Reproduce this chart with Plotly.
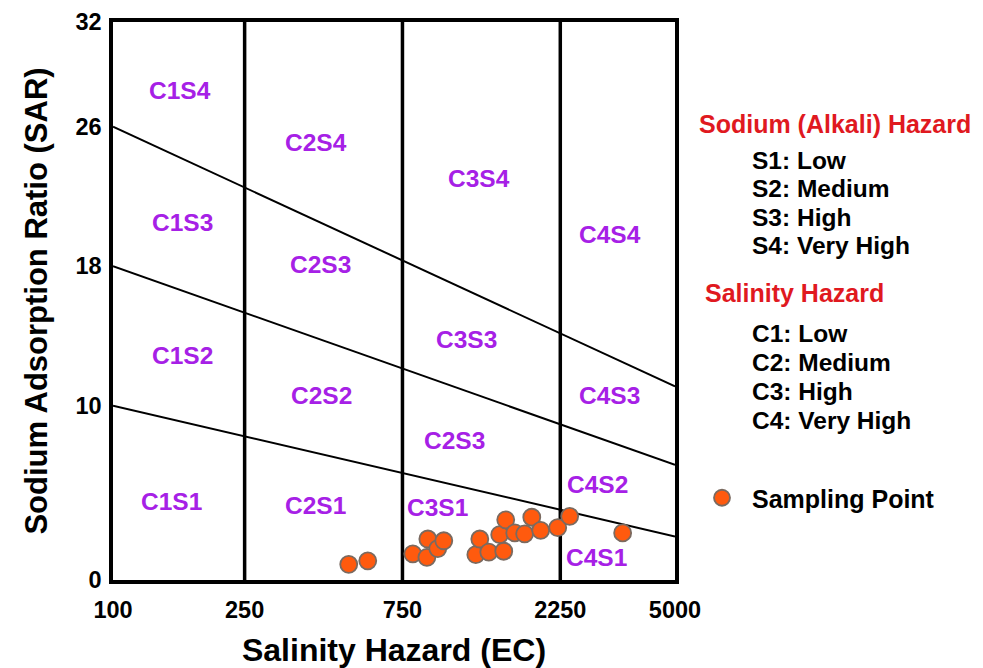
import numpy as np
import plotly.graph_objects as go

# ---- data ----
ec_samples = [516, 589, 806, 889, 895, 959, 1000, 1250, 1285, 1368, 1518, 1476,
              1539, 1639, 1756, 1845, 1963, 2210, 2402, 3473]
sar_samples = [0.9, 1.1, 1.5, 1.3, 2.35, 1.8, 2.25, 1.45, 2.35, 1.6, 1.65, 2.6,
               3.45, 2.7, 2.65, 3.6, 2.85, 3.0, 3.65, 2.7]

ec_range = [100, 5000]
sar_range = [0, 32]
ec_class_bounds = [250, 750, 2250]
# sodium hazard boundary lines: SAR at EC=100 and at EC=5000
s_bound_left = [10, 18, 26]
s_bound_right = [2.5, 6.6, 11.1]

x_tickvals = [100, 250, 750, 2250, 5000]
y_tickvals = [0, 10, 18, 26, 32]

zone_names = ["C1S4", "C2S4", "C3S4", "C4S4",
              "C1S3", "C2S3", "C3S3", "C4S3",
              "C1S2", "C2S2", "C2S3", "C4S2",
              "C1S1", "C2S1", "C3S1", "C4S1"]
zone_ec = [159, 410, 1276, 3175,
           162, 425, 1173, 3175,
           162, 428, 1079, 2919,
           150, 410, 959, 2900]
zone_sar = [28.1, 25.1, 23.0, 19.8,
            20.5, 18.1, 13.8, 10.6,
            12.9, 10.6, 8.0, 5.45,
            4.5, 4.25, 4.15, 1.3]

sodium_title = "Sodium (Alkali) Hazard"
sodium_items = ["S1: Low", "S2: Medium", "S3: High", "S4: Very High"]
salinity_title = "Salinity Hazard"
salinity_items = ["C1: Low", "C2: Medium", "C3: High", "C4: Very High"]

FONT = "Liberation Sans, Arial, sans-serif"
PURPLE = "#A620E6"
RED = "#E0191F"

# page body has an 8px margin; figure is sized/offset to compensate
OFF = 8
W, H = 967, 660
PL, PR, PT, PB = 113, 675, 22, 580  # plot area in screen pixels

fig = go.Figure()

# vertical class boundaries
for b in ec_class_bounds:
    fig.add_trace(go.Scatter(x=[b, b], y=sar_range, mode="lines",
                             line=dict(color="black", width=3.5),
                             showlegend=False, hoverinfo="skip"))
# sodium boundaries
for l, r in zip(s_bound_left, s_bound_right):
    fig.add_trace(go.Scatter(x=ec_range, y=[l, r], mode="lines",
                             line=dict(color="black", width=2),
                             showlegend=False, hoverinfo="skip"))

# samples
fig.add_trace(go.Scatter(x=ec_samples, y=sar_samples, mode="markers",
                         name="Sampling Point",
                         marker=dict(size=17, color="#FF5A0E",
                                     line=dict(color="#7A6A60", width=1.8))))

# zone labels
for n, xv, yv in zip(zone_names, zone_ec, zone_sar):
    fig.add_annotation(x=np.log10(xv), y=yv, xref="x", yref="y", text=n,
                       showarrow=False,
                       font=dict(family=FONT, size=24.5, color=PURPLE, weight="bold"))


def paper_x(px):
    return (px - PL) / (PR - PL)


def paper_y(py):
    return (PB - py) / (PB - PT)


fig.add_annotation(x=paper_x(697), y=paper_y(124), xref="paper", yref="paper",
                   text=sodium_title, showarrow=False, xanchor="left", yanchor="middle",
                   font=dict(family=FONT, size=25, color=RED, weight="bold"))
for i, t in enumerate(sodium_items):
    fig.add_annotation(x=paper_x(750), y=paper_y(160 + 28.5 * i), xref="paper", yref="paper",
                       text=t, showarrow=False, xanchor="left", yanchor="middle",
                       font=dict(family=FONT, size=24.5, color="black", weight="bold"))
fig.add_annotation(x=paper_x(703), y=paper_y(293), xref="paper", yref="paper",
                   text=salinity_title, showarrow=False, xanchor="left", yanchor="middle",
                   font=dict(family=FONT, size=25, color=RED, weight="bold"))
for i, t in enumerate(salinity_items):
    fig.add_annotation(x=paper_x(750), y=paper_y(333 + 29 * i), xref="paper", yref="paper",
                       text=t, showarrow=False, xanchor="left", yanchor="middle",
                       font=dict(family=FONT, size=24.5, color="black", weight="bold"))

fig.update_layout(
    width=W, height=H,
    margin=dict(l=PL - OFF, r=W - (PR - OFF), t=PT - OFF, b=H - (PB - OFF),
                autoexpand=False),
    paper_bgcolor="white", plot_bgcolor="white",
    font=dict(family=FONT, color="black"),
    showlegend=True,
    legend=dict(x=paper_x(692), y=paper_y(498), xanchor="left", yanchor="middle",
                bgcolor="rgba(0,0,0,0)", itemwidth=50,
                font=dict(family=FONT, size=25, color="black", weight="bold")),
    xaxis=dict(type="log", range=[np.log10(ec_range[0]), np.log10(ec_range[1])],
               tickvals=x_tickvals, ticktext=[str(v) for v in x_tickvals],
               tickfont=dict(family=FONT, size=23.5, weight="bold"),
               ticks="", ticklabelstandoff=6, automargin=False,
               showgrid=False, zeroline=False,
               showline=True, mirror=True, linecolor="black", linewidth=3.5,
               title=dict(text="Salinity Hazard (EC)", standoff=26,
                          font=dict(family=FONT, size=32, weight="bold"))),
    yaxis=dict(range=sar_range, tickvals=y_tickvals,
               tickfont=dict(family=FONT, size=23.5, weight="bold"),
               ticks="", ticklabelstandoff=3, automargin=False,
               showgrid=False, zeroline=False,
               showline=True, mirror=True, linecolor="black", linewidth=3.5,
               title=dict(text="Sodium Adsorption Ratio (SAR)", standoff=20,
                          font=dict(family=FONT, size=31, weight="bold"))),
)

fig.write_html("out.html")
